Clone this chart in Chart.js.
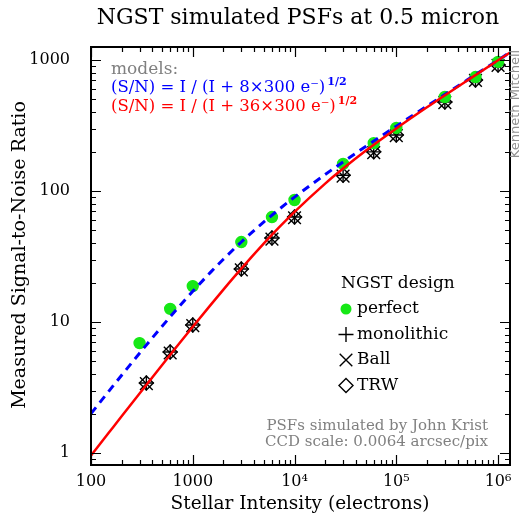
<!DOCTYPE html>
<html>
<head>
<meta charset="utf-8">
<script src="https://cdn.jsdelivr.net/npm/chart.js@4"></script>
<style>
html,body{margin:0;padding:0;background:#fff;}
#wrap{width:521px;height:516px;}
</style>
</head>
<body>
<div id="wrap"><canvas id="c" width="521" height="516"></canvas></div>
<script>
// ---- data ----
const perfectX = [300, 600, 1000, 3000, 6000, 10000, 30000, 60000, 100000, 300000, 600000, 1000000];
const perfectY = [6.9, 12.6, 18.8, 40.8, 63.3, 85.4, 161, 232, 303, 522, 741, 966];
const blackX = [350, 600, 1000, 3000, 6000, 10000, 30000, 60000, 100000, 300000, 600000, 1000000];
const monolithicY = [3.42, 5.9, 9.5, 25.4, 43.8, 63.3, 132, 199, 268, 478, 703, 916];
const ballY = [3.38, 5.8, 9.4, 25.0, 43.0, 62.5, 130, 196, 265, 472, 698, 910];
const trwY = [3.42, 5.9, 9.5, 25.4, 43.8, 63.3, 132, 199, 268, 478, 703, 916];
const modelX = [100, 150, 200, 300, 500, 700, 1000, 1500, 2000, 3000, 5000, 7000, 10000, 20000, 30000, 50000, 100000, 200000, 500000, 1000000, 1300000];
const model8Y = [2.000, 2.970, 3.922, 5.774, 9.285, 12.57, 17.15, 24.02, 30.15, 40.82, 58.12, 72.20, 89.80, 133.6, 166.7, 218.4, 312.5, 444.6, 705.4, 998.8, 1139.1];
const model36Y = [0.958, 1.433, 1.907, 2.847, 4.704, 6.528, 9.206, 13.52, 17.68, 25.54, 39.78, 52.47, 69.34, 113.96, 148.5, 202.8, 300.4, 435.6, 699.6, 994.6, 1135.5];
const xTickValues = [100, 1000, 10000, 100000, 1000000];
const xTickLabels = ['100', '1000', '10\u2074', '10\u2075', '10\u2076'];
const yTickValues = [1, 10, 100, 1000];
const yTickLabels = ['1', '10', '100', '1000'];
const legendLabels = ['perfect', 'monolithic', 'Ball', 'TRW'];

const SERIF = '"DejaVu Serif", serif';
const zip = (xs, ys) => xs.map((x, i) => ({x: x, y: ys[i]}));

const GREEN = '#16e816', BLUE = '#0000ff', RED = '#ff0000', GRAY = '#808080';

function drawMarker(ctx, kind, x, y) {
  ctx.save();
  ctx.strokeStyle = '#000'; ctx.lineWidth = 1.4;
  ctx.beginPath();
  if (kind === 'circle') {
    ctx.fillStyle = GREEN; ctx.arc(x, y, 5.5, 0, Math.PI * 2); ctx.fill();
  } else if (kind === 'cross') {
    ctx.moveTo(x - 7.5, y); ctx.lineTo(x + 7.5, y); ctx.moveTo(x, y - 7.5); ctx.lineTo(x, y + 7.5); ctx.stroke();
  } else if (kind === 'crossRot') {
    ctx.moveTo(x - 6.3, y - 6.3); ctx.lineTo(x + 6.3, y + 6.3); ctx.moveTo(x - 6.3, y + 6.3); ctx.lineTo(x + 6.3, y - 6.3); ctx.stroke();
  } else if (kind === 'rectRot') {
    ctx.moveTo(x, y - 7); ctx.lineTo(x + 7, y); ctx.lineTo(x, y + 7); ctx.lineTo(x - 7, y); ctx.closePath(); ctx.stroke();
  }
  ctx.restore();
}

function drawEq(ctx, x, y, color, main, sup) {
  ctx.save();
  ctx.fillStyle = color;
  ctx.textBaseline = 'alphabetic';
  ctx.textAlign = 'left';
  ctx.font = '16.5px ' + SERIF;
  ctx.fillText(main, x, y);
  const w = ctx.measureText(main).width;
  ctx.font = 'bold 11px ' + SERIF;
  ctx.fillText(sup, x + w + 2, y - 7);
  ctx.restore();
}

const decorPlugin = {
  id: 'decor',
  afterDraw(chart) {
    const ctx = chart.ctx;
    const a = chart.chartArea;
    const xs = chart.scales.x, ys = chart.scales.y;
    ctx.save();
    // inward ticks
    ctx.strokeStyle = '#000'; ctx.lineWidth = 1.2;
    ctx.beginPath();
    for (let d = 100; d <= 1e6; d *= 10) {
      for (let m = 1; m <= 9; m++) {
        const v = d * m;
        if (v > xs.max) break;
        const px = Math.round(xs.getPixelForValue(v)) + 0.5;
        const L = m === 1 ? 10 : 5;
        ctx.moveTo(px, a.bottom); ctx.lineTo(px, a.bottom - L);
        ctx.moveTo(px, a.top); ctx.lineTo(px, a.top + L);
      }
    }
    for (let d = 0.1; d <= 1000; d *= 10) {
      for (let m = 1; m <= 9; m++) {
        const v = d * m;
        if (v < ys.min || v > ys.max) continue;
        const py = Math.round(ys.getPixelForValue(v)) + 0.5;
        const L = m === 1 ? 10 : 5;
        ctx.moveTo(a.left, py); ctx.lineTo(a.left + L, py);
        ctx.moveTo(a.right, py); ctx.lineTo(a.right - L, py);
      }
    }
    ctx.stroke();
    // border
    ctx.lineWidth = 2;
    ctx.strokeRect(a.left, a.top, a.right - a.left, a.bottom - a.top);

    // title
    ctx.fillStyle = '#000';
    ctx.textAlign = 'center'; ctx.textBaseline = 'middle';
    ctx.font = '22px ' + SERIF;
    ctx.fillText('NGST simulated PSFs at 0.5 micron', 298, 18);
    // axis titles
    ctx.font = '18.5px ' + SERIF;
    ctx.fillText('Stellar Intensity (electrons)', 300, 504);
    ctx.save();
    ctx.translate(20, 255); ctx.rotate(-Math.PI / 2);
    ctx.font = '19px ' + SERIF;
    ctx.fillText('Measured Signal-to-Noise Ratio', 0, 0);
    ctx.restore();

    // models annotation
    ctx.textAlign = 'left'; ctx.textBaseline = 'alphabetic';
    ctx.fillStyle = GRAY; ctx.font = '17px ' + SERIF;
    ctx.fillText('models:', 111, 74);
    drawEq(ctx, 111, 92, BLUE, '(S/N) = I / (I + 8\u00d7300 e\u207b)', '1/2');
    drawEq(ctx, 111, 111, RED, '(S/N) = I / (I + 36\u00d7300 e\u207b)', '1/2');

    // legend
    ctx.fillStyle = '#000'; ctx.font = '17px ' + SERIF;
    ctx.textBaseline = 'middle';
    ctx.fillText('NGST design', 341, 284);
    const kinds = ['circle', 'cross', 'crossRot', 'rectRot'];
    for (let i = 0; i < 4; i++) {
      const ly = 309 + i * 25.5;
      drawMarker(ctx, kinds[i], 346, ly);
      ctx.fillStyle = '#000';
      ctx.fillText(legendLabels[i], 357, ly);
    }

    // credits
    ctx.fillStyle = GRAY; ctx.font = '15px ' + SERIF;
    ctx.textAlign = 'right';
    ctx.fillText('PSFs simulated by John Krist', 488, 426);
    ctx.fillText('CCD scale: 0.0064 arcsec/pix', 488, 442);
    ctx.save();
    ctx.translate(516, 104); ctx.rotate(-Math.PI / 2);
    ctx.textAlign = 'center';
    ctx.font = '13px "DejaVu Sans", sans-serif';
    ctx.fillStyle = '#909090';
    ctx.fillText('Kenneth Mitchell', 0, 0);
    ctx.restore();
    ctx.restore();
  }
};

const markerDs = (label, xs, ys, style, radius, color, bg) => ({
  label: label, data: zip(xs, ys), showLine: false,
  pointStyle: style, pointRadius: radius, pointHoverRadius: radius,
  pointBorderColor: color, pointBackgroundColor: bg, pointBorderWidth: 1.4
});

new Chart(document.getElementById('c'), {
  type: 'scatter',
  data: {
    datasets: [
      {label: 'model36', data: zip(modelX, model36Y), showLine: true, borderColor: RED, borderWidth: 2.5, pointRadius: 0, tension: 0.4, cubicInterpolationMode: 'monotone'},
      {label: 'model8', data: zip(modelX, model8Y), showLine: true, borderColor: BLUE, borderWidth: 3, borderDash: [8, 6], pointRadius: 0, tension: 0.4, cubicInterpolationMode: 'monotone'},
      markerDs('perfect', perfectX, perfectY, 'circle', 5.5, GREEN, GREEN),
      markerDs('TRW', blackX, trwY, 'rectRot', 7, '#000', 'rgba(0,0,0,0)'),
      markerDs('monolithic', blackX, monolithicY, 'cross', 7.5, '#000', 'rgba(0,0,0,0)'),
      markerDs('Ball', blackX, ballY, 'crossRot', 9, '#000', 'rgba(0,0,0,0)')
    ]
  },
  options: {
    responsive: false, animation: false, devicePixelRatio: 1,
    layout: {padding: {top: 47, right: 11, left: 0, bottom: 0}},
    plugins: {legend: {display: false}, tooltip: {enabled: false}, title: {display: false}},
    scales: {
      x: {
        type: 'logarithmic', min: 100, max: 1.31e6,
        grid: {display: false}, border: {display: false},
        afterBuildTicks: s => { s.ticks = xTickValues.map(v => ({value: v})); },
        afterFit: s => { s.height = 51; },
        ticks: {padding: -1, color: '#000', maxRotation: 0, autoSkip: false, font: {family: SERIF, size: 16},
          callback: (v, i) => xTickLabels[i]}
      },
      y: {
        type: 'logarithmic', min: 0.81, max: 1257,
        grid: {display: false}, border: {display: false},
        afterBuildTicks: s => { s.ticks = yTickValues.map(v => ({value: v})); },
        afterFit: s => { s.width = 91; },
        ticks: {padding: 13, color: '#000', autoSkip: false, font: {family: SERIF, size: 16},
          callback: (v, i) => yTickLabels[i]}
      }
    }
  },
  plugins: [decorPlugin]
});
</script>
</body>
</html>
